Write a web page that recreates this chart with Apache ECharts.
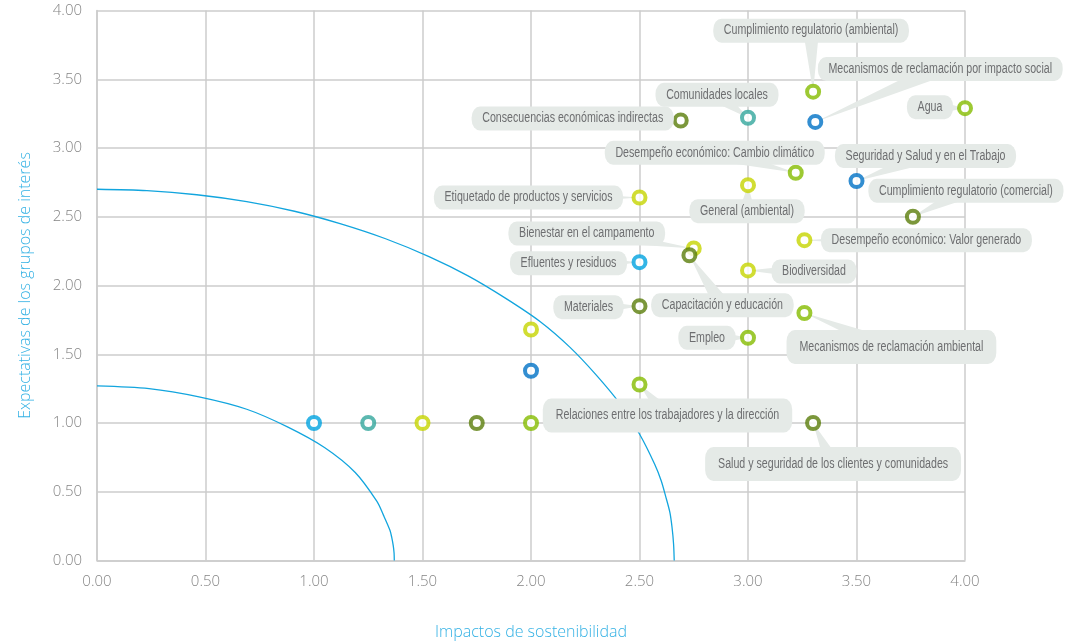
<!DOCTYPE html>
<html>
<head>
<meta charset="utf-8">
<script src="https://cdn.jsdelivr.net/npm/echarts@6/dist/echarts.min.js"></script>
<style>
html,body{margin:0;padding:0;background:#fff;}
#chart{width:1075px;height:644px;}
</style>
</head>
<body>
<div id="chart"></div>
<script>
// ---- data ----
const names = [
  '', '', '', '', '', '', '',
  'Relaciones entre los trabajadores y la dirección',
  'Materiales',
  'Efluentes y residuos',
  'Etiquetado de productos y servicios',
  'Bienestar en el campamento',
  'Capacitación y educación',
  'Biodiversidad',
  'Empleo',
  'Mecanismos de reclamación ambiental',
  'Salud y seguridad de los clientes y comunidades',
  'Desempeño económico: Valor generado',
  'Cumplimiento regulatorio (comercial)',
  'Seguridad y Salud y en el Trabajo',
  'Desempeño económico: Cambio climático',
  'General (ambiental)',
  'Comunidades locales',
  'Consecuencias económicas indirectas',
  'Mecanismos de reclamación por impacto social',
  'Cumplimiento regulatorio (ambiental)',
  'Agua'
];
const xValues = [1.00, 1.25, 1.50, 1.75, 2.00, 2.00, 2.00,
  2.50, 2.50, 2.50, 2.50, 2.75, 2.73, 3.00, 3.00, 3.26, 3.30,
  3.26, 3.76, 3.50, 3.22, 3.00, 3.00, 2.69, 3.31, 3.30, 4.00];
const yValues = [1.00, 1.00, 1.00, 1.00, 1.00, 1.38, 1.68,
  1.28, 1.85, 2.17, 2.64, 2.27, 2.22, 2.11, 1.62, 1.80, 1.00,
  2.33, 2.50, 2.76, 2.82, 2.73, 3.22, 3.20, 3.19, 3.41, 3.29];
// colour group per point: 0 light blue, 1 teal, 2 lime, 3 olive, 4 green, 5 dark blue
const groups = [0, 1, 2, 3, 4, 5, 2,
  4, 3, 0, 2, 2, 3, 2, 4, 4, 3,
  2, 3, 5, 4, 2, 1, 3, 5, 4, 4];
// threshold curves
const outerCurve = [[0,2.70],[0.23,2.69],[0.46,2.66],[0.69,2.61],[0.91,2.54],[1.12,2.45],[1.33,2.34],[1.53,2.21],[1.71,2.07],[1.88,1.91],[2.04,1.74],[2.18,1.55],[2.30,1.35],[2.41,1.14],[2.50,0.92],[2.57,0.70],[2.60,0.58],[2.62,0.47],[2.64,0.35],[2.65,0.24],[2.657,0.12],[2.66,0]];
const innerCurve = [[0,1.27],[0.24,1.25],[0.47,1.19],[0.69,1.10],[0.88,0.97],[1.05,0.82],[1.19,0.64],[1.29,0.43],[1.32,0.33],[1.35,0.22],[1.358,0.17],[1.365,0.11],[1.369,0.055],[1.37,0]];
const tickLabels = ['0.00','0.50','1.00','1.50','2.00','2.50','3.00','3.50','4.00'];

// ---- layout / styles ----
const palette = ['#00a3e0', '#33a69c', '#c5d500', '#5a7d0a', '#84bc00', '#0072c6'];
const labelDx = [0,0,0,0,0,0,0, 28,-51,-71,-111,-107,33,66,-41,87,20,122,53,69,-81,-1,-31,-108,125,-2,-35];
const labelDy = [0,0,0,0,0,0,0, 31,1,1,0,-15,50,1,0,34,41,0,-26,-25,-20,26,-23,-2,-53,-61,-1];
const tallLabel = {7: true, 15: true, 16: true};
const boxColor = '#e5eae7';
const textColor = '#6d6e70';
const narrowScale = 0.76;

const scatterData = names.map((n, i) => ({
  name: n,
  value: [xValues[i], yValues[i]],
  itemStyle: { borderColor: palette[groups[i]] }
}));

const labeledIdx = [];
names.forEach((n, i) => { if (n) labeledIdx.push(i); });
const labeledData = labeledIdx.map(i => [xValues[i], yValues[i]]);

function boxCenter(params, api) {
  const i = labeledIdx[params.dataIndex];
  const p = api.coord([api.value(0), api.value(1)]);
  return { i: i, p: p, c: [p[0] + labelDx[i], p[1] + labelDy[i]] };
}

const chart = echarts.init(document.getElementById('chart'), null, { renderer: 'canvas' });
const axisCommon = {
  type: 'value', min: 0, max: 4, interval: 0.5,
  axisLine: { show: true, lineStyle: { color: '#cccccc', width: 1.5 } },
  axisTick: { show: false },
  splitLine: { show: true, lineStyle: { color: '#cccccc', width: 1.5 } },
  axisLabel: {
    color: '#858585', fontFamily: '"Open Sans", sans-serif', fontSize: 15, fontWeight: 300,
    formatter: v => tickLabels[Math.round(v / 0.5)]
  },
  nameLocation: 'middle',
  nameTextStyle: { color: '#33b1e4', fontFamily: '"Open Sans", sans-serif', fontSize: 16, fontWeight: 300 }
};
chart.setOption({
  animation: false,
  grid: { left: 97, right: 110, top: 10.5, bottom: 83.5, outerBoundsMode: 'none', containLabel: false },
  xAxis: Object.assign({}, axisCommon, {
    name: 'Impactos de sostenibilidad', nameGap: 64,
    axisLabel: Object.assign({}, axisCommon.axisLabel, { margin: 14 })
  }),
  yAxis: Object.assign({}, axisCommon, {
    name: 'Expectativas de los grupos de interés', nameGap: 64, nameRotate: 90,
    axisLabel: Object.assign({}, axisCommon.axisLabel, { margin: 15 })
  }),
  series: [
    {
      type: 'line', data: outerCurve, showSymbol: false, smooth: 0.3, z: 1,
      lineStyle: { color: '#12a5de', width: 1.3 }, silent: true
    },
    {
      type: 'line', data: innerCurve, showSymbol: false, smooth: 0.3, z: 1,
      lineStyle: { color: '#12a5de', width: 1.3 }, silent: true
    },
    {
      // callout tails
      type: 'custom', z: 2, silent: true,
      data: labeledData,
      renderItem: function (params, api) {
        const b = boxCenter(params, api);
        const dx = b.c[0] - b.p[0], dy = b.c[1] - b.p[1];
        const len = Math.sqrt(dx * dx + dy * dy) || 1;
        const nx = -dy / len, ny = dx / len, w = 8;
        return {
          type: 'polygon',
          shape: { points: [[b.p[0], b.p[1]], [b.c[0] + nx * w, b.c[1] + ny * w], [b.c[0] - nx * w, b.c[1] - ny * w]] },
          style: { fill: boxColor }
        };
      }
    },
    {
      type: 'scatter', z: 3,
      symbol: 'circle', symbolSize: 12,
      itemStyle: { color: '#ffffff', borderWidth: 4 },
      data: scatterData
    },
    {
      // callout boxes
      type: 'custom', z: 4, silent: true,
      data: labeledData,
      renderItem: function (params, api) {
        const b = boxCenter(params, api);
        const tall = tallLabel[b.i];
        return {
          type: 'text',
          x: b.c[0], y: b.c[1],
          scaleX: narrowScale,
          style: {
            text: names[b.i],
            x: 0, y: 0,
            align: 'center', verticalAlign: 'middle',
            font: '14px "Liberation Sans", Arial, sans-serif',
            fill: textColor,
            backgroundColor: boxColor,
            padding: tall ? [10, 17] : [5, 14],
            borderRadius: 11
          }
        };
      }
    }
  ]
});
</script>
</body>
</html>
